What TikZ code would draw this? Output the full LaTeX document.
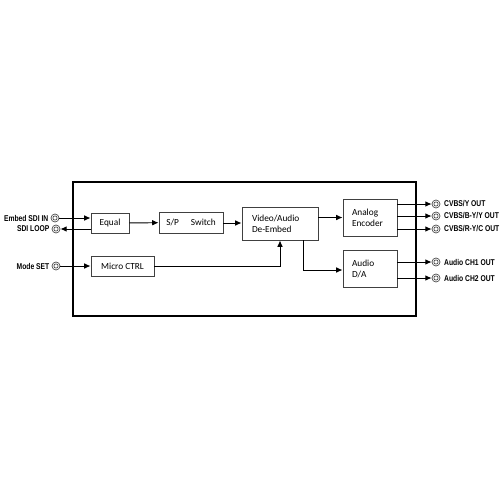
\documentclass[tikz,border=0pt]{standalone}
\usepackage{fontspec}
\setmainfont{Carlito}
\newfontfamily\tagfont[FakeStretch=0.8]{Liberation Sans}
\usetikzlibrary{arrows.meta, positioning}
\newlength\pix
\setlength\pix{0.02cm}

\tikzset{
  block/.style={rectangle, draw=black!75, line width=0.5pt, inner sep=0pt,
    font=\fontsize{5.3}{6.3}\selectfont},
  lblock/.style={block, align=left},
  arr/.style={-{Latex[length=3.6pt,width=3.2pt]}, line width=0.55pt},
  jack/.style={circle, draw=black!70, line width=0.4pt, minimum size=8\pix, inner sep=0pt,
    path picture={\draw[black!70, line width=0.4pt] (path picture bounding box.center) circle (1.2pt);}},
  tag/.style={inner sep=0pt, font=\tagfont\bfseries\fontsize{4.8}{5.5}\selectfont}
}

\begin{document}
\begin{tikzpicture}[x=0.02cm, y=-0.02cm]
  \useasboundingbox[fill=white] (0,0) rectangle (500,500);

  % unit frame
  \node (unit) [draw, line width=1.1pt, minimum width=343\pix, minimum height=134\pix, inner sep=0pt] at (244.5,249) {};

  % blocks
  \node (eq) [block, minimum width=38\pix, minimum height=20\pix] at (110,223) {Equal};
  \node (sp) [block, minimum width=64\pix, minimum height=21\pix] at (191,222.5) {S/P\hspace*{6.8pt}Switch};
  \node (va) [lblock, text width=56\pix, inner xsep=10\pix, minimum height=33\pix] at (280,223.5) {Video/Audio\\De-Embed};
  \node (enc) [lblock, text width=36\pix, inner xsep=9\pix, minimum height=37\pix] at (370,217.5) {Analog\\Encoder};
  \node (da) [lblock, text width=36\pix, inner xsep=9\pix, minimum height=37\pix] at (370,268.5) {Audio\\D/A};
  \node (micro) [block, minimum width=63\pix, minimum height=20\pix] at (122.5,266) {Micro CTRL};

  % input jacks
  \node (ein) [jack] at (55,218) {};
  \node (loop) [jack] at (56,229) {};
  \node (mset) [jack] at (56,266) {};
  \node (eint) [tag, left=0.04cm of ein] {Embed SDI IN};
  \node (loopt) [tag, left=0.04cm of loop] {SDI LOOP};
  \node (msett) [tag, left=0.04cm of mset] {Mode SET};

  % output jacks
  \node (cvy) [jack] at (436,204) {};
  \node (cvby) [jack] at (436,216) {};
  \node (cvry) [jack] at (436,229) {};
  \node (ach1) [jack] at (436,262) {};
  \node (ach2) [jack] at (436,278) {};
  \node (cvyt) [tag, right=0.07cm of cvy] {CVBS/Y OUT};
  \node (cvbyt) [tag, right=0.07cm of cvby] {CVBS/B-Y/Y OUT};
  \node (cvryt) [tag, right=0.07cm of cvry] {CVBS/R-Y/C OUT};
  \node (ach1t) [tag, right=0.07cm of ach1] {Audio CH1 OUT};
  \node (ach2t) [tag, right=0.07cm of ach2] {Audio CH2 OUT};

  % signal flow
  \draw[arr] (ein) -- (ein -| eq.west);
  \draw[arr] (eq.west |- loop) -- (loop);
  \draw[arr] (mset) -- (mset -| micro.west);
  \draw[arr] (eq) -- (sp);
  \draw[arr] (sp.east |- eq) -- (va.west |- eq);
  \draw[arr] (va.east |- enc) -- (enc.west);
  \draw[arr] (micro.east) -| (va.south);
  \draw[arr] ([xshift=23\pix]va.south) |- ([yshift=-1.5\pix]da.west);
  \draw[arr] (enc.east |- cvy) -- (cvy);
  \draw[arr] (enc.east |- cvby) -- (cvby);
  \draw[arr] (enc.east |- cvry) -- (cvry);
  \draw[arr] (da.east |- ach1) -- (ach1);
  \draw[arr] (da.east |- ach2) -- (ach2);
\end{tikzpicture}
\end{document}
